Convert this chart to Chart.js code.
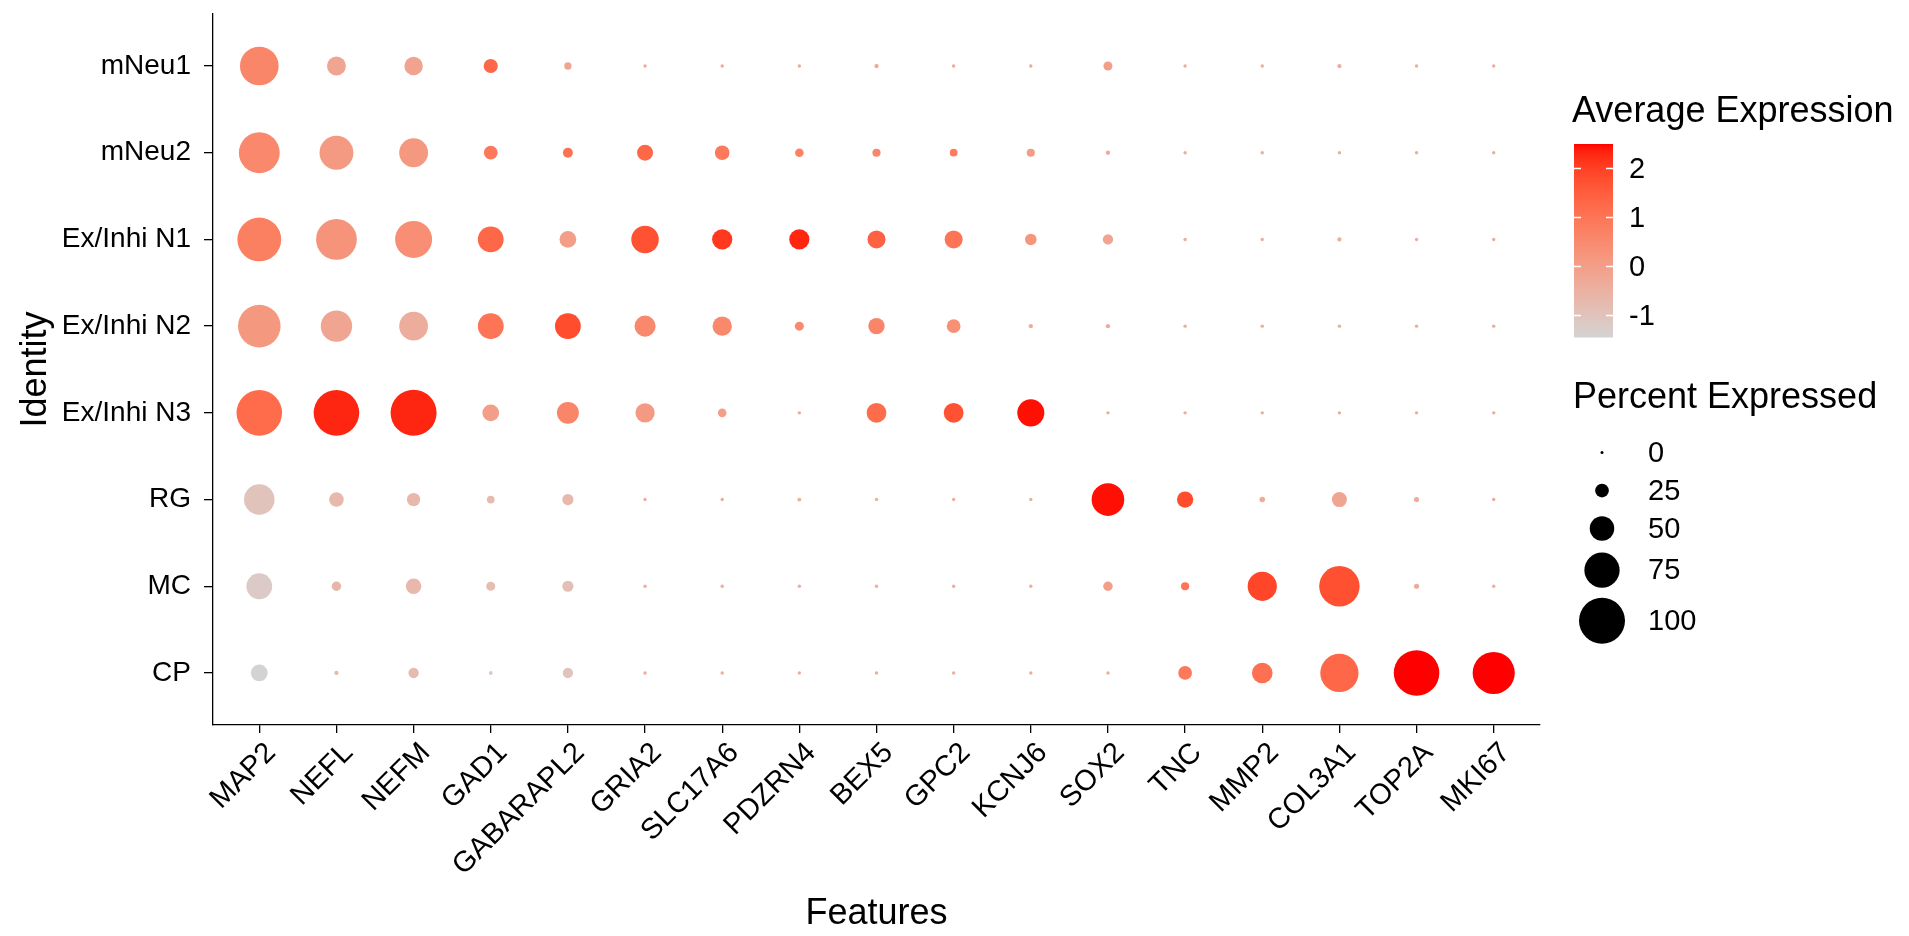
<!DOCTYPE html>
<html>
<head>
<meta charset="utf-8">
<title>Dot plot of marker genes</title>
<script src="https://cdn.jsdelivr.net/npm/chart.js@4.4.1/dist/chart.umd.min.js"></script>
<style>
  html, body { margin: 0; padding: 0; background: #ffffff; overflow: hidden; }
  canvas { display: block; }
</style>
</head>
<body>
<canvas id="dotplot" width="1909" height="936" style="width:1909px;height:936px"></canvas>
<script>
// Marker genes (x axis) and cell identities (y axis, top to bottom)
const features = ['MAP2', 'NEFL', 'NEFM', 'GAD1', 'GABARAPL2', 'GRIA2', 'SLC17A6', 'PDZRN4',
  'BEX5', 'GPC2', 'KCNJ6', 'SOX2', 'TNC', 'MMP2', 'COL3A1', 'TOP2A', 'MKI67'];
const identities = ['mNeu1', 'mNeu2', 'Ex/Inhi N1', 'Ex/Inhi N2', 'Ex/Inhi N3', 'RG', 'MC', 'CP'];

// Percent of cells expressing each gene, one row per identity (same order as features)
const pctExpressed = [
  [83, 37, 36, 26, 10, 1, 1, 1, 3, 1, 1, 14, 1, 1, 3, 1, 1],        // mNeu1
  [88, 72, 60, 25, 16, 30, 27, 13, 12, 11, 12, 3, 1, 1, 1, 1, 1],    // mNeu2
  [95, 88, 79, 53, 32, 57, 40, 40, 35, 35, 20, 17, 1, 1, 3, 1, 1],   // Ex/Inhi N1
  [92, 66, 60, 53, 53, 42, 38, 14, 31, 25, 3, 3, 1, 1, 1, 1, 1],     // Ex/Inhi N2
  [99, 99, 100, 32, 44, 38, 13, 1, 39, 39, 56, 1, 1, 1, 1, 1, 1],    // Ex/Inhi N3
  [64, 27, 24, 11, 19, 1, 1, 2, 1, 1, 1, 69, 31, 6, 28, 5, 1],       // RG
  [53, 15, 29, 14, 19, 1, 1, 1, 1, 1, 1, 15, 12, 61, 87, 5, 1],      // MC
  [32, 3, 17, 2, 17, 1, 1, 1, 1, 1, 1, 1, 25, 41, 82, 99, 91]        // CP
];

// Scaled average expression, one row per identity (same order as features)
const avgExpression = [
  [0.60, -0.20, -0.15, 1.30, -0.20, -0.35, -0.35, -0.35, -0.25, -0.35, -0.35, 0.00, -0.40, -0.40, -0.40, -0.40, -0.40],
  [0.55, 0.10, 0.15, 0.90, 1.10, 1.30, 0.90, 0.70, 0.60, 0.80, 0.05, -0.30, -0.40, -0.40, -0.40, -0.40, -0.40],
  [0.75, 0.25, 0.40, 1.30, 0.00, 1.70, 2.10, 2.30, 1.40, 1.00, 0.20, -0.20, -0.40, -0.40, -0.40, -0.40, -0.40],
  [0.15, -0.20, -0.40, 1.00, 1.80, 0.55, 0.55, 0.50, 0.60, 0.35, -0.35, -0.35, -0.40, -0.40, -0.40, -0.40, -0.40],
  [1.20, 2.30, 2.30, 0.00, 0.60, 0.10, 0.00, -0.35, 1.20, 1.70, 2.45, -0.40, -0.40, -0.40, -0.40, -0.40, -0.40],
  [-1.00, -0.70, -0.70, -0.80, -0.70, -0.45, -0.45, -0.45, -0.45, -0.45, -0.45, 2.45, 1.80, -0.35, -0.20, -0.40, -0.40],
  [-1.20, -0.65, -0.70, -0.85, -0.90, -0.45, -0.45, -0.45, -0.45, -0.45, -0.45, 0.00, 1.00, 1.90, 1.75, -0.35, -0.40],
  [-1.46, -0.70, -0.75, -1.20, -1.00, -0.45, -0.45, -0.45, -0.45, -0.45, -0.45, -0.45, 0.90, 1.10, 1.30, 2.50, 2.50]
];

// Legend breaks
const colorBreaks = [2, 1, 0, -1];
const sizeBreaks = [0, 25, 50, 75, 100];

const FONT = '"Liberation Sans", Arial, Helvetica, sans-serif';
const TICK_SIZE = 29;
const Y_TICK_SIZE = 28;
const TITLE_SIZE = 36;
const LOW = [211, 211, 211];   // lightgrey
const HIGH = [255, 0, 0];      // red

// ---- colour scale: lightgrey -> red, interpolated in CIE Lab ----
function toLin(c) { c /= 255; return c <= 0.04045 ? c / 12.92 : Math.pow((c + 0.055) / 1.055, 2.4); }
function fromLin(c) {
  const v = c <= 0.0031308 ? 12.92 * c : 1.055 * Math.pow(c, 1 / 2.4) - 0.055;
  return Math.round(Math.max(0, Math.min(1, v)) * 255);
}
function rgbToLab(rgb) {
  const R = toLin(rgb[0]), G = toLin(rgb[1]), B = toLin(rgb[2]);
  const X = (0.4124 * R + 0.3576 * G + 0.1805 * B) / 0.95047;
  const Y = 0.2126 * R + 0.7152 * G + 0.0722 * B;
  const Z = (0.0193 * R + 0.1192 * G + 0.9505 * B) / 1.08883;
  const f = t => t > 0.008856 ? Math.cbrt(t) : 7.787 * t + 16 / 116;
  return [116 * f(Y) - 16, 500 * (f(X) - f(Y)), 200 * (f(Y) - f(Z))];
}
function labToRgb(lab) {
  const fy = (lab[0] + 16) / 116, fx = fy + lab[1] / 500, fz = fy - lab[2] / 200;
  const inv = t => { const t3 = t * t * t; return t3 > 0.008856 ? t3 : (t - 16 / 116) / 7.787; };
  const X = inv(fx) * 0.95047, Y = inv(fy), Z = inv(fz) * 1.08883;
  const r = 3.2406 * X - 1.5372 * Y - 0.4986 * Z;
  const g = -0.9689 * X + 1.8758 * Y + 0.0415 * Z;
  const b = 0.0557 * X - 0.2040 * Y + 1.0570 * Z;
  return [fromLin(r), fromLin(g), fromLin(b)];
}
const labLow = rgbToLab(LOW), labHigh = rgbToLab(HIGH);
const allExp = avgExpression.flat();
const expMin = Math.min(...allExp), expMax = Math.max(...allExp);
function expColor(v) {
  const t = Math.max(0, Math.min(1, (v - expMin) / (expMax - expMin)));
  const lab = labLow.map((l, i) => l + (labHigh[i] - l) * t);
  const c = labToRgb(lab);
  return `rgb(${c[0]},${c[1]},${c[2]})`;
}

// ---- size scale: radius grows linearly with percent expressed ----
const R_MIN = 1.5, R_MAX = 23;
function pctRadius(p) { return R_MIN + (R_MAX - R_MIN) * p / 100; }

// ---- build the bubble points ----
const points = [];
const colors = [];
identities.forEach((id, r) => {
  features.forEach((g, c) => {
    points.push({ x: c, y: r, r: pctRadius(pctExpressed[r][c]) });
    colors.push(expColor(avgExpression[r][c]));
  });
});

// ---- legends drawn to the right of the panel ----
const legendPlugin = {
  id: 'dotLegends',
  afterDraw(chart) {
    const ctx = chart.ctx;
    ctx.save();

    // Average Expression colour bar
    ctx.fillStyle = '#000';
    ctx.font = `${TITLE_SIZE}px ${FONT}`;
    ctx.textAlign = 'left';
    ctx.textBaseline = 'alphabetic';
    ctx.fillText('Average Expression', 1572, 122);

    const bx = 1574, bw = 39, by = 144, bh = 193;
    for (let i = 0; i < bh; i++) {
      const v = expMax - (i + 0.5) / bh * (expMax - expMin);
      ctx.fillStyle = expColor(v);
      ctx.fillRect(bx, by + i, bw, 1.5);
    }
    ctx.font = `${TICK_SIZE}px ${FONT}`;
    ctx.textBaseline = 'middle';
    colorBreaks.forEach(v => {
      const y = Math.round(by + (expMax - v) / (expMax - expMin) * bh) + 0.5;
      ctx.strokeStyle = '#ffffff';
      ctx.lineWidth = 1.3;
      ctx.beginPath();
      ctx.moveTo(bx, y); ctx.lineTo(bx + 7, y);
      ctx.moveTo(bx + bw - 7, y); ctx.lineTo(bx + bw, y);
      ctx.stroke();
      ctx.fillStyle = '#000';
      ctx.fillText(String(v), 1629, y + 1);
    });

    // Percent Expressed size keys
    ctx.font = `${TITLE_SIZE}px ${FONT}`;
    ctx.textBaseline = 'alphabetic';
    ctx.fillText('Percent Expressed', 1573, 408);

    ctx.font = `${TICK_SIZE}px ${FONT}`;
    ctx.textBaseline = 'middle';
    let y = 433.5;
    sizeBreaks.forEach(p => {
      const rad = pctRadius(p);
      const h = Math.max(38, 2 * rad + 10);
      const cy = y + h / 2;
      ctx.fillStyle = '#000';
      ctx.beginPath();
      ctx.arc(1602, cy, rad, 0, Math.PI * 2);
      ctx.fill();
      ctx.fillText(String(p), 1648, cy + 1);
      y += h;
    });
    ctx.restore();
  }
};

Chart.defaults.font.family = FONT;
Chart.defaults.color = '#000';

new Chart(document.getElementById('dotplot'), {
  type: 'bubble',
  data: {
    datasets: [{
      data: points,
      backgroundColor: colors,
      borderWidth: 0,
      hoverBorderWidth: 0
    }]
  },
  options: {
    responsive: false,
    animation: false,
    events: [],
    layout: { autoPadding: false, padding: { left: 0, top: 14, right: 369, bottom: 0 } },
    plugins: { legend: { display: false }, tooltip: { enabled: false } },
    scales: {
      x: {
        type: 'linear',
        min: -0.6,
        max: features.length - 0.4,
        afterBuildTicks: s => { s.ticks = features.map((f, i) => ({ value: i })); },
        afterFit: s => { s.height = 211; s.paddingLeft = 0; s.paddingRight = 0; },
        ticks: {
          autoSkip: false,
          minRotation: 45,
          maxRotation: 45,
          padding: 3,
          labelOffset: 12,
          font: { size: TICK_SIZE },
          color: '#000',
          callback: v => features[v]
        },
        grid: { drawOnChartArea: false, drawTicks: true, tickLength: 8, color: '#000', lineWidth: 1.3 },
        border: { display: true, color: '#000', width: 1.3 },
        title: { display: true, text: 'Features', font: { size: TITLE_SIZE }, color: '#000', padding: { top: 0, bottom: 0 } }
      },
      y: {
        type: 'linear',
        reverse: true,
        min: -0.6,
        max: identities.length - 0.4,
        afterBuildTicks: s => { s.ticks = identities.map((id, i) => ({ value: i })); },
        afterFit: s => { s.width = 213; s.paddingTop = 0; s.paddingBottom = 0; },
        ticks: {
          autoSkip: false,
          padding: 13,
          font: { size: Y_TICK_SIZE },
          color: '#000',
          callback: v => identities[v]
        },
        grid: { drawOnChartArea: false, drawTicks: true, tickLength: 9, color: '#000', lineWidth: 1.3 },
        border: { display: true, color: '#000', width: 1.3 },
        title: { display: true, text: 'Identity', font: { size: TITLE_SIZE }, color: '#000', padding: { top: 14, bottom: 0 } }
      }
    }
  },
  plugins: [legendPlugin]
});
</script>
</body>
</html>
